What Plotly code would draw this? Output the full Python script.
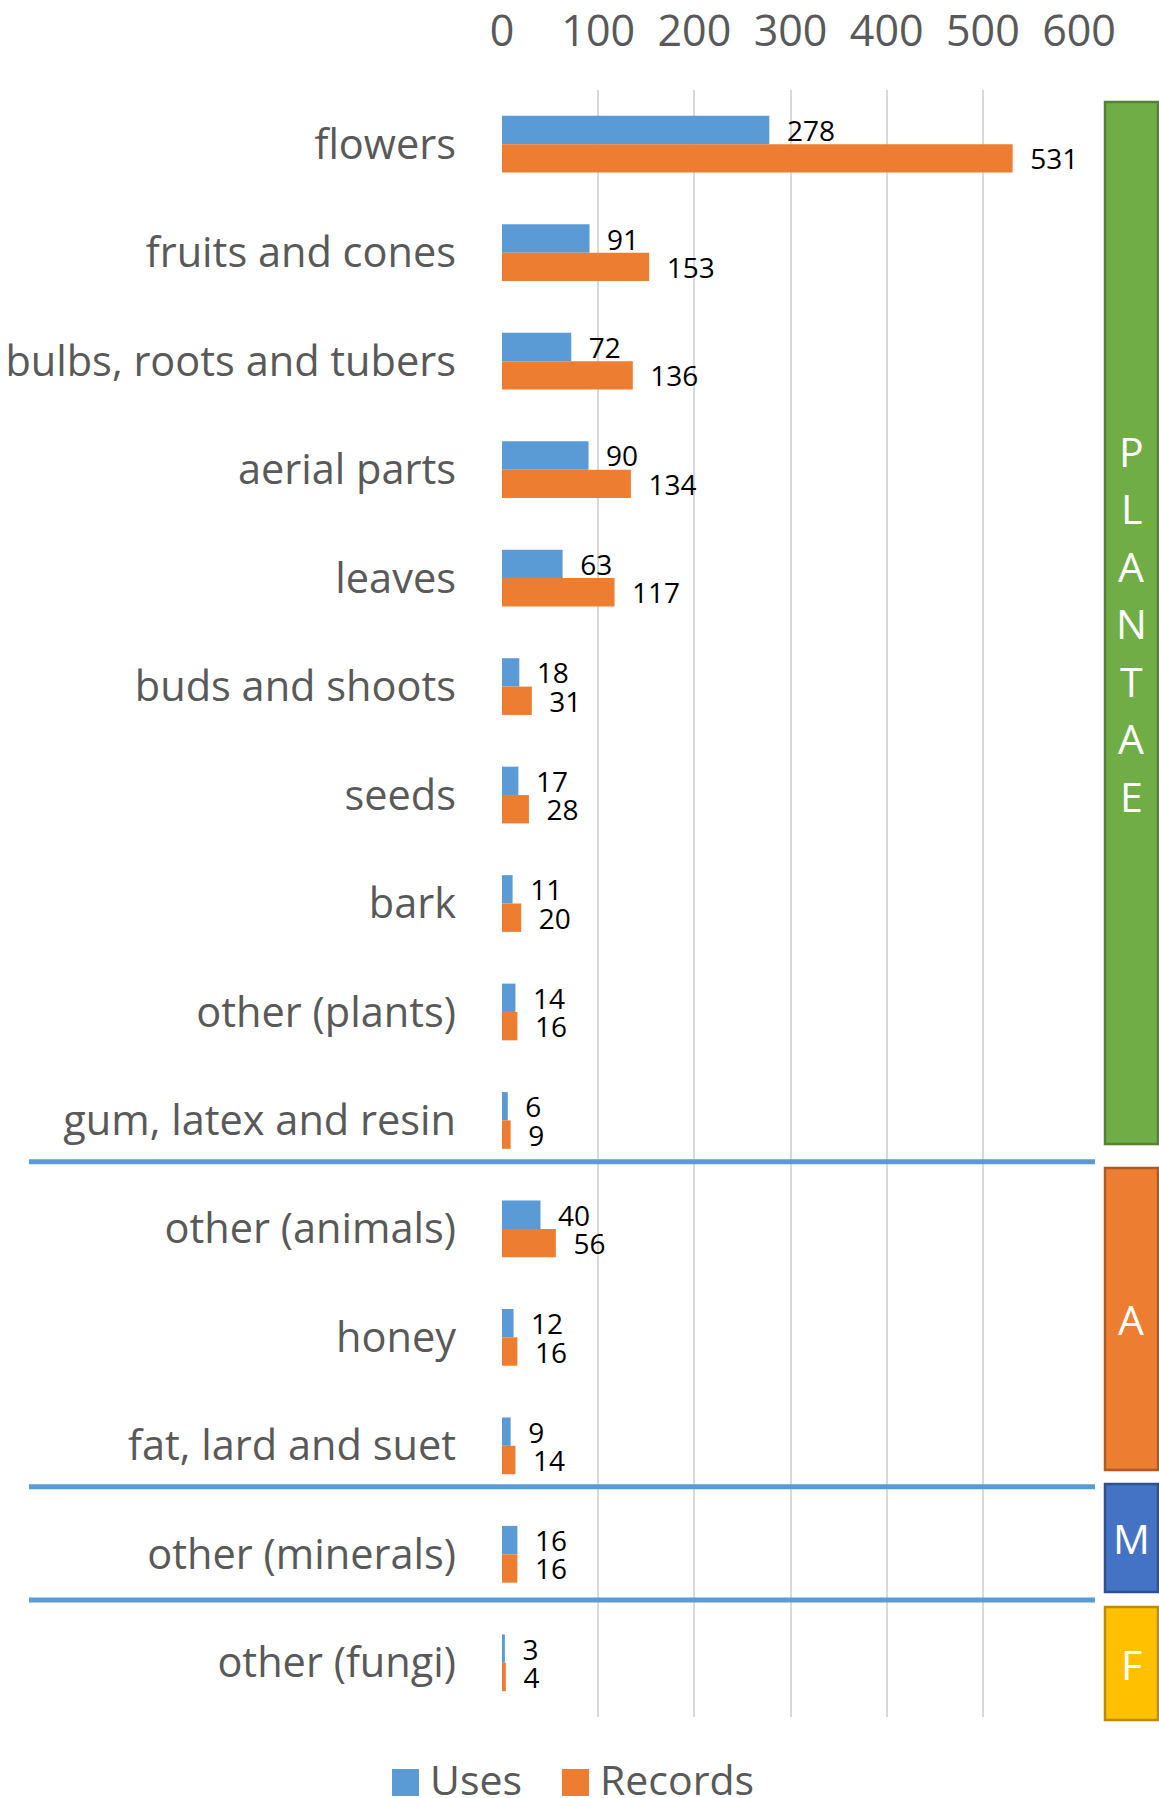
import plotly.graph_objects as go

categories = ["flowers", "fruits and cones", "bulbs, roots and tubers", "aerial parts",
              "leaves", "buds and shoots", "seeds", "bark", "other (plants)",
              "gum, latex and resin", "other (animals)", "honey", "fat, lard and suet",
              "other (minerals)", "other (fungi)"]
uses = [278, 91, 72, 90, 63, 18, 17, 11, 14, 6, 40, 12, 9, 16, 3]
records = [531, 153, 136, 134, 117, 31, 28, 20, 16, 9, 56, 16, 14, 16, 4]
x_ticks = [0, 100, 200, 300, 400, 500, 600]
series_names = ["Uses", "Records"]
group_labels = ["PLANTAE", "A", "M", "F"]

W, H = 1159, 1798
L, R, T, B = 502, 80, 90, 81
PW, PH = W - L - R, H - T - B
FONT = "Open Sans"
BLUE, ORANGE = "#5B9BD5", "#ED7D31"

def fx(px):
    return (px - L) / PW

def fy(py):
    return (H - B - py) / PH

fig = go.Figure()
lab_font = dict(family=FONT, size=28, color="#000000")
fig.add_trace(go.Bar(y=categories, x=uses, orientation="h", name=series_names[0],
                     marker=dict(color=BLUE, line=dict(width=0)),
                     texttemplate="\u00a0\u00a0%{x}", textposition="outside",
                     textfont=lab_font, constraintext="none", cliponaxis=False,
                     showlegend=False))
fig.add_trace(go.Bar(y=categories, x=records, orientation="h", name=series_names[1],
                     marker=dict(color=ORANGE, line=dict(width=0)),
                     texttemplate="\u00a0\u00a0%{x}", textposition="outside",
                     textfont=lab_font, constraintext="none", cliponaxis=False,
                     showlegend=False))

shapes = []
annotations = []

# separators between groups
for py in [1161.7, 1486.7, 1600]:
    shapes.append(dict(type="line", xref="paper", yref="paper",
                       x0=fx(29), x1=fx(1095), y0=fy(py), y1=fy(py),
                       line=dict(color=BLUE, width=5)))

# group boxes
boxes = [
    (102, 1144, "#70AD47", "#548235"),
    (1168, 1470, "#ED7D31", "#AE5A21"),
    (1484, 1592, "#4472C4", "#2F528F"),
    (1607, 1720, "#FFC000", "#BC8C00"),
]
for (y0, y1, fill, border), lab in zip(boxes, group_labels):
    shapes.append(dict(type="rect", xref="paper", yref="paper",
                       x0=fx(1105), x1=fx(1158), y0=fy(y0), y1=fy(y1),
                       fillcolor=fill, line=dict(color=border, width=2.5)))
    n = len(lab)
    cy = (y0 + y1) / 2
    for i, ch in enumerate(lab):
        py = cy + (i - (n - 1) / 2) * 57.5
        annotations.append(dict(text=ch, xref="paper", yref="paper",
                                x=fx(1131), y=fy(py), xanchor="center", yanchor="middle",
                                showarrow=False,
                                font=dict(family=FONT, size=41, color="white")))

# manual legend
legend_items = [(392, 432, BLUE), (562, 602, ORANGE)]
for (sx, tx, col), name in zip(legend_items, series_names):
    shapes.append(dict(type="rect", xref="paper", yref="paper",
                       x0=fx(sx), x1=fx(sx + 27), y0=fy(1769), y1=fy(1796),
                       fillcolor=col, line=dict(width=0)))
    annotations.append(dict(text=name, xref="paper", yref="paper",
                            x=fx(tx - 4), y=fy(1779), xanchor="left", yanchor="middle",
                            showarrow=False,
                            font=dict(family=FONT, size=41, color="#595959")))

fig.update_layout(
    width=W, height=H,
    margin=dict(l=L, r=R, t=T, b=B, autoexpand=False),
    paper_bgcolor="white", plot_bgcolor="white",
    barmode="group", bargap=0.477, bargroupgap=0,
    shapes=shapes, annotations=annotations,
    showlegend=False,
    xaxis=dict(side="top", range=[0, 600], tickvals=x_ticks,
               ticktext=[str(v) for v in x_ticks], automargin=False,
               showgrid=True, gridcolor="#D9D9D9", gridwidth=1.5,
               zeroline=False, showline=False, ticks="",
               tickfont=dict(family=FONT, size=43, color="#595959"),
               ticklabelstandoff=34, fixedrange=True),
    yaxis=dict(autorange="reversed", categoryorder="array", categoryarray=categories,
               automargin=False,
               showgrid=False, zeroline=False, showline=False, ticks="",
               tickfont=dict(family=FONT, size=41.5, color="#595959"),
               ticklabelstandoff=45, fixedrange=True),
)

fig.write_html("out.html", include_plotlyjs=True, config={"displayModeBar": False},
               post_script="document.body.style.margin='0';document.body.style.overflow='hidden';")
